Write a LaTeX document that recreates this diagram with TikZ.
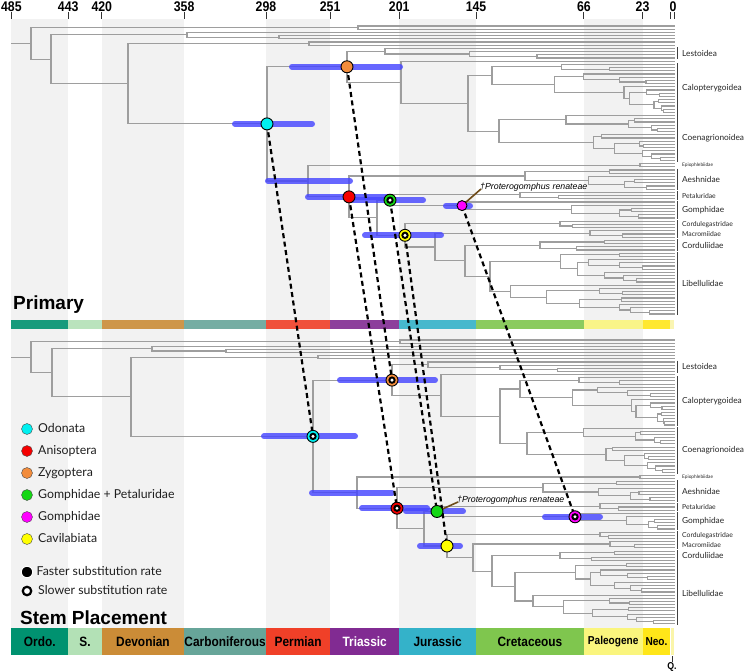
\documentclass[tikz,border=0pt]{standalone}
\usepackage{fontspec}
\setmainfont{Lato}
\newfontfamily\hv{Liberation Sans}
\newfontfamily\hvc{Liberation Sans}[FakeStretch=0.88]
\usetikzlibrary{calc}
\definecolor{treegrey}{RGB}{158,158,158}
\definecolor{bandgrey}{RGB}{242,242,242}
\definecolor{hpdblue}{RGB}{70,70,255}
\definecolor{cOrd}{RGB}{0,146,112}
\definecolor{cSil}{RGB}{179,225,182}
\definecolor{cDev}{RGB}{203,140,55}
\definecolor{cCar}{RGB}{103,165,153}
\definecolor{cPer}{RGB}{240,64,40}
\definecolor{cTri}{RGB}{129,43,146}
\definecolor{cJur}{RGB}{52,178,201}
\definecolor{cCre}{RGB}{127,198,78}
\definecolor{cPal}{RGB}{250,245,125}
\definecolor{cNeo}{RGB}{255,230,25}
\definecolor{cQua}{RGB}{250,245,170}
\definecolor{mCyan}{RGB}{0,240,240}
\definecolor{mRed}{RGB}{245,0,0}
\definecolor{mOrange}{RGB}{242,140,60}
\definecolor{mGreen}{RGB}{20,215,20}
\definecolor{mMagenta}{RGB}{255,0,255}
\definecolor{mYellow}{RGB}{255,255,0}
\definecolor{fosbrown}{RGB}{110,75,25}
\tikzset{
  br/.style={line width=1.1pt, draw=treegrey, line cap=rect},
  hpd/.style={line width=6pt, draw=hpdblue, draw opacity=0.82, line cap=round},
  dashln/.style={draw=black, line width=2.2pt, dash pattern=on 5pt off 3.5pt},
  mk/.style={circle, draw=black, line width=0.9pt, minimum size=12pt, inner sep=0pt},
  slowmk/.style={mk, path picture={\fill[black] (path picture bounding box.center) circle (3.7pt); \fill[white] (path picture bounding box.center) circle (1.7pt);}},
  cladebar/.style={draw=black!75, line width=1.2pt},
  cladelab/.style={anchor=west, inner sep=0pt, text=black!85},
  legdot/.style={circle, draw=black!70, line width=0.4pt, minimum size=11pt, inner sep=0pt},
  legtxt/.style={anchor=west, inner sep=0pt, text=black!88, font=\fontsize{12.3}{14}\selectfont, text height=1.6ex, text depth=0.3ex},
  agelab/.style={font=\hvc\bfseries\fontsize{14}{16}\selectfont, inner sep=0pt},
  tickln/.style={draw=black!80, line width=0.9pt},
  fosline/.style={draw=fosbrown, line width=1.6pt},
  foslab/.style={anchor=west, inner sep=0pt, font=\hv\itshape\fontsize{8.8}{10}\selectfont},
  panlab/.style={anchor=base west, inner sep=0pt, font=\hv\bfseries\fontsize{19}{22}\selectfont},
}
\newcommand\biglab{\fontsize{8.3}{10}\selectfont}
\newcommand\smllab{\fontsize{6.8}{8}\selectfont}
\makeatletter
\newcommand\subtree[4]{%
  \begingroup
  \ifnum#2=1\relax
    \pgfmathsetmacro\st@y{\yz+(#1)*\tg}%
    \draw[br] (#4,\st@y) -- (\xtip,\st@y);%
    \xdef\retY{\st@y}%
  \else
    \pgfmathsetmacro\st@k{int(max(1,min(#2-1,round(#2*(0.1+0.4*rnd)))))}%
    \pgfmathsetmacro\st@m{int(#2-\st@k)}%
    \pgfmathsetmacro\st@f{int(#1+\st@k)}%
    \pgfmathsetmacro\st@xa{#3+(\xtip-#3)*(0.1+0.5*rnd)}%
    \pgfmathsetmacro\st@xb{#3+(\xtip-#3)*(0.1+0.5*rnd)}%
    \edef\st@call{\noexpand\subtree{#1}{\st@k}{\st@xa}{#3}}\st@call
    \let\st@ya\retY
    \edef\st@call{\noexpand\subtree{\st@f}{\st@m}{\st@xb}{#3}}\st@call
    \let\st@yb\retY
    \draw[br] (#3,\st@ya) -- (#3,\st@yb);%
    \pgfmathsetmacro\st@ym{(\st@ya+\st@yb)/2}%
    \draw[br] (#4,\st@ym) -- (#3,\st@ym);%
    \xdef\retY{\st@ym}%
  \fi
  \endgroup
}
\newcommand\bnode[5]{%
  \pgfmathsetmacro\bn@ym{(#3+#4)/2}%
  \draw[br] (#2,#3) -- (#2,#4);%
  \draw[br] (#5,\bn@ym) -- (#2,\bn@ym);%
  \coordinate (#1) at (#2,\bn@ym);%
  \xdef\retY{\bn@ym}%
}
\newcommand\clade[5]{%
  \pgfmathsetmacro\cl@a{\yz+(#1)*\tg-1.3}%
  \pgfmathsetmacro\cl@b{\yz+(#2)*\tg+1.3}%
  \pgfmathsetmacro\cl@m{\yz+(#1+#2)*\tg/2}%
  \draw[cladebar] (677.5,\cl@a) -- (677.5,\cl@b);%
  \node[cladelab] (#5) at (682,\cl@m) {#4#3};%
}
\makeatother
\newcommand\drawpanel[1]{%
  \subtree{0}{2}{\xOA}{\xRoot}\let\yOA\retY
  \subtree{2}{1}{0}{\xOB}\let\yOBa\retY
  \subtree{3}{2}{\xOBb}{\xOB}\let\yOBb\retY
  \bnode{nOB#1}{\xOB}{\yOBa}{\yOBb}{\xOBone}\let\yOB\retY
  \subtree{5}{2}{\xOC}{\xOCn}\let\yOC\retY
  \subtree{7}{4}{\xLes}{\xZyg}\let\yLes\retY
  \subtree{11}{1}{0}{\xZtwo}\let\ySgl\retY
  \subtree{12}{16}{\xCal}{\xZthree}\let\yCal\retY
  \subtree{28}{15}{\xCoe}{\xZthree}\let\yCoe\retY
  \bnode{nZthree#1}{\xZthree}{\yCal}{\yCoe}{\xZtwo}\let\yZthree\retY
  \bnode{nZtwo#1}{\xZtwo}{\ySgl}{\yZthree}{\xZyg}\let\yZtwo\retY
  \bnode{nZyg#1}{\xZyg}{\yLes}{\yZtwo}{\xOdo}\let\yZyg\retY
  \subtree{43}{2}{\xEpo}{\xEpi}\let\yEpo\retY
  \subtree{45}{7}{\xAes}{\xAni}\let\yAes\retY
  \subtree{52}{3}{\xPet}{\xGP}\let\yPet\retY
  \subtree{55}{6}{\xGom}{\xGP}\let\yGom\retY
  \coordinate (nGom#1) at (\xGom,\yGom);
  \bnode{nGP#1}{\xGP}{\yPet}{\yGom}{\xAtwo}\let\yGP\retY
  \subtree{61}{3}{\xCdg}{\xCav}\let\yCdg\retY
  \subtree{64}{3}{\xMac}{\xCtwo}\let\yMac\retY
  \subtree{67}{4}{\xCor}{\xCthree}\let\yCor\retY
  \subtree{71}{20}{\xLib}{\xCthree}\let\yLib\retY
  \bnode{nCthree#1}{\xCthree}{\yCor}{\yLib}{\xCtwo}\let\yCthree\retY
  \bnode{nCtwo#1}{\xCtwo}{\yMac}{\yCthree}{\xCav}\let\yCtwo\retY
  \bnode{nCav#1}{\xCav}{\yCdg}{\yCtwo}{\xAtwo}\let\yCav\retY
  \bnode{nAtwo#1}{\xAtwo}{\yGP}{\yCav}{\xAni}\let\yAtwo\retY
  \bnode{nAni#1}{\xAni}{\yAes}{\yAtwo}{\xEpi}\let\yAni\retY
  \bnode{nEpi#1}{\xEpi}{\yEpo}{\yAni}{\xOdo}\let\yEpi\retY
  \bnode{nOdo#1}{\xOdo}{\yZyg}{\yEpi}{\xOCn}\let\yOdo\retY
  \bnode{nOCn#1}{\xOCn}{\yOC}{\yOdo}{\xOBone}\let\yOCn\retY
  \bnode{nOBone#1}{\xOBone}{\yOB}{\yOCn}{\xRoot}\let\yOBone\retY
  \bnode{nRoot#1}{\xRoot}{\yOA}{\yOBone}{12}%
  \clade{7}{10}{Lestoidea}{\biglab}{clLes#1}
  \clade{12}{27}{Calopterygoidea}{\biglab}{clCal#1}
  \clade{28}{42}{Coenagrionoidea}{\biglab}{clCoe#1}
  \pgfmathsetmacro\yEpl{\yz+43.5*\tg}%
  \node[cladelab] (clEpo#1) at (682,\yEpl) {\fontsize{4.8}{6}\selectfont Epiophlebiidae};
  \clade{45}{51}{Aeshnidae}{\biglab}{clAes#1}
  \clade{52}{54}{Petaluridae}{\smllab}{clPet#1}
  \clade{55}{60}{Gomphidae}{\biglab}{clGom#1}
  \clade{61}{63}{Cordulegastridae}{\smllab}{clCdg#1}
  \clade{64}{66}{Macromiidae}{\smllab}{clMac#1}
  \clade{67}{70}{Corduliidae}{\biglab}{clCor#1}
  \clade{71}{90}{Libellulidae}{\biglab}{clLib#1}
}
\begin{document}
\begin{tikzpicture}[x=1pt,y=-1pt]
\useasboundingbox (0,0) rectangle (748,671);
\fill[white] (0,0) rectangle (748,671);
% period background bands
\foreach \pa/\pb in {485.4/443.8, 419.2/358.9, 298.9/251.9, 201.3/145, 66/23.03}
  \fill[bandgrey] ({674-1.365*\pa},19) rectangle ({674-1.365*\pb},628);
% top age axis
\foreach \pa/\lab [count=\k] in {485.4/485, 443.8/443, 419.2/420, 358.9/358, 298.9/298, 251.9/251, 201.3/201, 145/145, 66/66, 23.03/23} {
  \draw[tickln] ({674-1.365*\pa},12.5) -- ({674-1.365*\pa},19);
  \node[agelab] (age\k) at ({674-1.365*\pa},6.5) {\lab};
}
\draw[tickln] (670.5,12.5) -- (670.5,19);
\draw[tickln] (674,12.5) -- (674,19);
\node[agelab] (age0) at (673,6.5) {0};
% primary period bar
\foreach \pa/\pb/\col in {485.4/443.8/cOrd, 443.8/419.2/cSil, 419.2/358.9/cDev, 358.9/298.9/cCar, 298.9/251.9/cPer, 251.9/201.3/cTri, 201.3/145/cJur, 145/66/cCre, 66/23.03/cPal, 23.03/2.58/cNeo, 2.58/0/cQua}
  \fill[\col, fill opacity=0.9] ({674-1.365*\pa},320) rectangle ({674-1.365*\pb},329);
% bottom period bar with labels
\foreach \pa/\pb/\col/\lab/\tc/\fs [count=\k] in {485.4/443.8/cOrd/Ordo./black/13.5, 443.8/419.2/cSil/S./black/13.5, 419.2/358.9/cDev/Devonian/black/13.5, 358.9/298.9/cCar/Carboniferous/black/13.5, 298.9/251.9/cPer/Permian/black/13.5, 251.9/201.3/cTri/Triassic/white/13.5, 201.3/145/cJur/Jurassic/black/13.5, 145/66/cCre/Cretaceous/black/13.5, 66/23.03/cPal/Paleogene/black/11.5, 23.03/2.58/cNeo/Neo./black/11.5} {
  \fill[\col] ({674-1.365*\pa},628) rectangle ({674-1.365*\pb},655);
  \node[inner sep=0pt, text=\tc, font=\hvc\bfseries\fontsize{\fs}{15}\selectfont] (per\k) at ({674-1.365*(\pa+\pb)/2},641.5) {\lab};
}
\fill[cQua] (670.5,628) rectangle (674,655);
\draw[tickln] (672,656) -- (672,662);
\node[inner sep=0pt, font=\hvc\bfseries\fontsize{10}{12}\selectfont] (perQ) at (672,667) {Q.};
% ---------- primary tree ----------
\def\xtip{674}
\def\yz{26}\def\tg{3.2}
\def\xRoot{31}\def\xOA{358}\def\xOBone{51}\def\xOB{187}\def\xOBb{279}\def\xOCn{128}\def\xOC{309}
\def\xOdo{267}\def\xZyg{347}\def\xLes{385}\def\xZtwo{401}\def\xZthree{468}\def\xCal{492}\def\xCoe{499}
\def\xEpi{308}\def\xEpo{640}\def\xAni{349}\def\xAes{525}\def\xAtwo{377}\def\xGP{390}\def\xPet{520}\def\xGom{462}
\def\xCav{405}\def\xCdg{560}\def\xCtwo{435}\def\xMac{590}\def\xCthree{465}\def\xCor{540}\def\xLib{490}
\pgfmathsetseed{4242}
\drawpanel{T}
% ---------- stem placement tree ----------
\def\yz{340}\def\tg{3.15}
\def\xRoot{31}\def\xOA{400}\def\xOBone{52}\def\xOB{152}\def\xOBb{226}\def\xOCn{131}\def\xOC{318}
\def\xOdo{313}\def\xZyg{392}\def\xLes{428}\def\xZtwo{441}\def\xZthree{500}\def\xCal{520}\def\xCoe{527}
\def\xEpi{357}\def\xEpo{640}\def\xAni{397}\def\xAes{543}\def\xAtwo{424}\def\xGP{437}\def\xPet{600}\def\xGom{575}
\def\xCav{447}\def\xCdg{600}\def\xCtwo{473}\def\xMac{610}\def\xCthree{492}\def\xCor{560}\def\xLib{515}
\pgfmathsetseed{4242}
\drawpanel{B}
% ---------- HPD bars ----------
\draw[hpd] ([xshift=-32pt]nOdoT) -- ([xshift=45pt]nOdoT);
\draw[hpd] ([xshift=-55pt]nZygT) -- ([xshift=53pt]nZygT);
\draw[hpd] ([xshift=-40pt]nEpiT) -- ([xshift=42pt]nEpiT);
\draw[hpd] ([xshift=-41pt]nAniT) -- ([xshift=38pt]nAniT);
\draw[hpd] ([xshift=-38pt]nGPT) -- ([xshift=33pt]nGPT);
\draw[hpd] ([xshift=-16pt]nGomT) -- ([xshift=8pt]nGomT);
\draw[hpd] ([xshift=-40pt]nCavT) -- ([xshift=36pt]nCavT);
\draw[hpd] ([xshift=-49pt]nOdoB) -- ([xshift=42pt]nOdoB);
\draw[hpd] ([xshift=-52pt]nZygB) -- ([xshift=43pt]nZygB);
\draw[hpd] ([xshift=-45pt]nEpiB) -- ([xshift=35pt]nEpiB);
\draw[hpd] ([xshift=-35pt]nAniB) -- ([xshift=30pt]nAniB);
\draw[hpd] ([xshift=-31pt]nGPB) -- ([xshift=26pt]nGPB);
\draw[hpd] ([xshift=-30pt]nGomB) -- ([xshift=25pt]nGomB);
\draw[hpd] ([xshift=-27pt]nCavB) -- ([xshift=13pt]nCavB);
% ---------- dashed connectors ----------
\draw[dashln] (nOdoT) -- (nOdoB);
\draw[dashln] (nZygT) -- (nZygB);
\draw[dashln] (nAniT) -- (nAniB);
\draw[dashln] (nGPT) -- (nGPB);
\draw[dashln] (nCavT) -- (nCavB);
\draw[dashln] (nGomT) -- (nGomB);
% ---------- fossil ----------
\node[foslab] (fosT) at (480,187) {\textdagger Proterogomphus renateae};
\node[foslab] (fosB) at (457,500) {\textdagger Proterogomphus renateae};
\draw[fosline] (nGomT) -- ([xshift=1pt,yshift=-2pt]fosT.west);
\draw[fosline] (nGPB) -- ([xshift=1pt,yshift=-2pt]fosB.west);
% ---------- markers ----------
\node[mk, fill=mCyan] (mOdoT) at (nOdoT) {};
\node[mk, fill=mOrange] (mZygT) at (nZygT) {};
\node[mk, fill=mRed] (mAniT) at (nAniT) {};
\node[slowmk, fill=mGreen] (mGPT) at (nGPT) {};
\node[mk, fill=mMagenta, minimum size=10pt] (mGomT) at (nGomT) {};
\node[slowmk, fill=mYellow] (mCavT) at (nCavT) {};
\node[slowmk, fill=mCyan] (mOdoB) at (nOdoB) {};
\node[slowmk, fill=mOrange] (mZygB) at (nZygB) {};
\node[slowmk, fill=mRed] (mAniB) at (nAniB) {};
\node[mk, fill=mGreen] (mGPB) at (nGPB) {};
\node[slowmk, fill=mMagenta] (mGomB) at (nGomB) {};
\node[mk, fill=mYellow] (mCavB) at (nCavB) {};
% ---------- legend ----------
\foreach \col/\lab/\yy [count=\k] in {mCyan/Odonata/429, mRed/Anisoptera/451, mOrange/Zygoptera/473, mGreen/Gomphidae + Petaluridae/495, mMagenta/Gomphidae/517, mYellow/Cavilabiata/539} {
  \node[legdot, fill=\col] (legdot\k) at (27,\yy) {};
  \node[legtxt] (legtxt\k) at (38,\yy) {\lab};
}
\node[circle, fill=black, draw=white, line width=1pt, minimum size=11.5pt, inner sep=0pt] (legFast) at (27,572) {};
\node[legtxt] (legFastT) at (36.5,572) {Faster substitution rate};
\node[circle, draw=black, line width=2.2pt, fill=white, minimum size=8.5pt, inner sep=0pt] (legSlow) at (27,591) {};
\node[legtxt] (legSlowT) at (38,591) {Slower substitution rate};
% ---------- panel labels ----------
\node[panlab] (labPrim) at (13,310) {Primary};
\node[panlab] (labStem) at (20,624) {Stem Placement};
\end{tikzpicture}
\end{document}
